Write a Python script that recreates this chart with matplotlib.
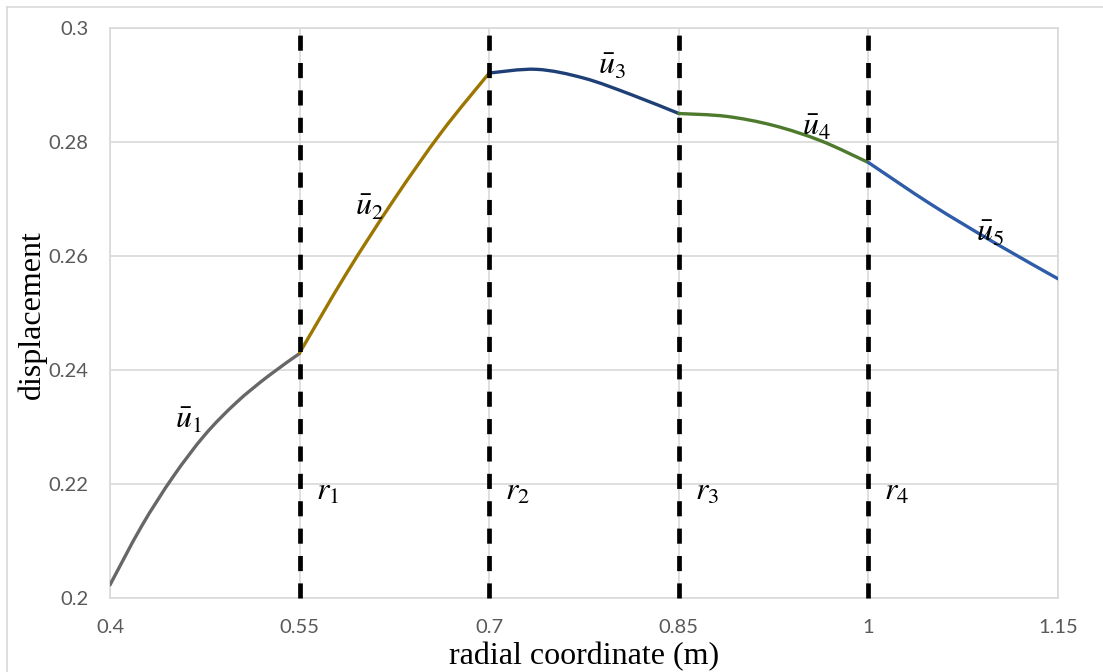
import matplotlib
matplotlib.use("Agg")
import matplotlib.pyplot as plt
from matplotlib.lines import Line2D
from matplotlib.path import Path
from matplotlib.patches import PathPatch

plt.rcParams['mathtext.fontset'] = 'stix'

# values
r1_x = [0.40, 0.425, 0.45, 0.475, 0.50, 0.525, 0.55]
r1_y = [0.2023, 0.2126, 0.2213, 0.2286, 0.2343, 0.2389, 0.2429]

r2_x = [0.55, 0.5875, 0.625, 0.6625, 0.70]
r2_y = [0.2430, 0.2571, 0.2700, 0.2818, 0.2921]

r3_x = [0.70, 0.7375, 0.775, 0.8125, 0.85]
r3_y = [0.2921, 0.29275, 0.2912, 0.2883, 0.2850]

r4_x = [0.85, 0.8875, 0.925, 0.9625, 1.0]
r4_y = [0.2850, 0.2845, 0.2829, 0.2802, 0.2764]

r5_x = [1.0, 1.05, 1.10, 1.15]
r5_y = [0.2764, 0.2690, 0.2623, 0.2560]

radii = [0.55, 0.70, 0.85, 1.0]
radius_labels = ['$r_1$', '$r_2$', '$r_3$', '$r_4$']
curve_labels = [r'$\bar{u}_1$', r'$\bar{u}_2$', r'$\bar{u}_3$', r'$\bar{u}_4$', r'$\bar{u}_5$']
label_pos = [(0.4624, 0.2312), (0.605, 0.2686), (0.797, 0.2932), (0.959, 0.2825), (1.096, 0.2640)]
colors = ['#676767', '#9C7600', '#1F3F77', '#4E7A2E', '#2F5CA8']

xticks = [0.4, 0.55, 0.7, 0.85, 1.0, 1.15]
xtick_labels = ['0.4', '0.55', '0.7', '0.85', '1', '1.15']
yticks = [0.2, 0.22, 0.24, 0.26, 0.28, 0.3]
ytick_labels = ['0.2', '0.22', '0.24', '0.26', '0.28', '0.3']


def smooth_path(xs, ys):
    # Excel style smoothed line: Catmull-Rom segments drawn as cubic Beziers
    n = len(xs)
    verts = [(xs[0], ys[0])]
    codes = [Path.MOVETO]
    for i in range(n - 1):
        x0, y0 = (xs[i - 1], ys[i - 1]) if i > 0 else (xs[i], ys[i])
        x1, y1 = xs[i], ys[i]
        x2, y2 = xs[i + 1], ys[i + 1]
        x3, y3 = (xs[i + 2], ys[i + 2]) if i + 2 < n else (x2, y2)
        c1 = (x1 + (x2 - x0) / 6, y1 + (y2 - y0) / 6)
        c2 = (x2 - (x3 - x1) / 6, y2 - (y3 - y1) / 6)
        verts += [c1, c2, (x2, y2)]
        codes += [Path.CURVE4] * 3
    return Path(verts, codes)


fig = plt.figure(figsize=(11.03, 6.72), dpi=100)
ax = fig.add_axes([110 / 1103, 74 / 672, 948 / 1103, 570 / 672])

# chart border (light gray frame)
fig.add_artist(Line2D([7 / 1103, 7 / 1103], [0, 665 / 672], color='#D9D9D9', lw=1.2))
fig.add_artist(Line2D([7 / 1103, 1], [665 / 672, 665 / 672], color='#D9D9D9', lw=1.2))

ax.set_xlim(0.4, 1.15)
ax.set_ylim(0.2, 0.3)
ax.set_xticks(xticks)
ax.set_xticklabels(xtick_labels)
ax.set_yticks(yticks)
ax.set_yticklabels(ytick_labels)
ax.grid(True, color='#D9D9D9', lw=1.2)
ax.set_axisbelow(True)
ax.tick_params(length=0, labelcolor='#595959', labelsize=14.5)
ax.tick_params(axis='x', pad=15)
ax.tick_params(axis='y', pad=15.5)
for lbl in ax.get_xticklabels() + ax.get_yticklabels():
    lbl.set_family('Lato')
for s in ax.spines.values():
    s.set_color('#D9D9D9')
    s.set_linewidth(1.2)

curves = [(r1_x, r1_y), (r2_x, r2_y), (r3_x, r3_y), (r4_x, r4_y), (r5_x, r5_y)]
for (xs, ys), c in zip(curves, colors):
    ax.add_patch(PathPatch(smooth_path(xs, ys), facecolor='none', edgecolor=c,
                           lw=2.4, capstyle='round', zorder=3))

for r in radii:
    ax.plot([r, r], [0.2, 0.3], color='black', lw=3.4, ls=(0, (3.2, 2.6)), zorder=4, clip_on=False)

for r, lab in zip(radii, radius_labels):
    ax.text(r + 0.022, 0.2188, lab, fontsize=23, ha='center', va='center')

for (lx, ly), lab in zip(label_pos, curve_labels):
    ax.text(lx, ly, lab, fontsize=23, ha='center', va='center', zorder=5)

ax.set_xlabel('radial coordinate (m)', family='Liberation Serif', fontsize=23, va='center')
ax.set_ylabel('displacement', family='Liberation Serif', fontsize=23, va='center')
ax.xaxis.set_label_coords(0.5, -0.103)
ax.yaxis.set_label_coords(-0.082, 0.4965)

fig.savefig('out.png', dpi=100)
